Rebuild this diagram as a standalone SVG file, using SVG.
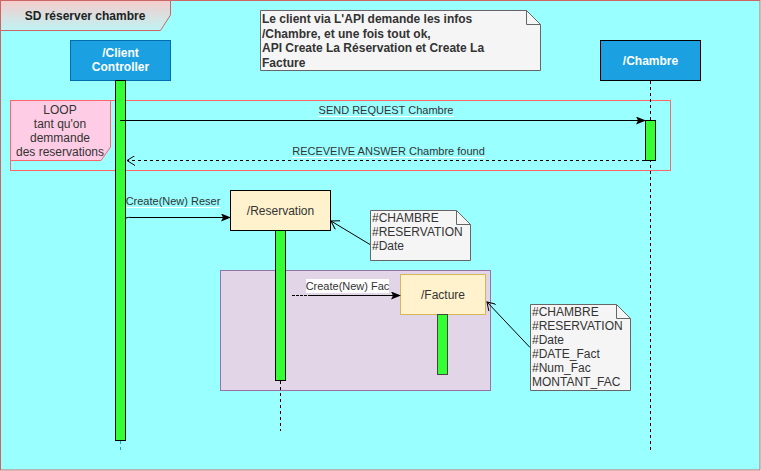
<svg xmlns="http://www.w3.org/2000/svg" width="761" height="471" viewBox="0 0 761 471">
<style>
text{font-family:"Liberation Sans",Arial,sans-serif;fill:#333}
.hd{fill:#fff;font-weight:bold;font-size:12px;text-anchor:middle}
.lbl{font-size:11px;text-anchor:middle}
.nt{font-size:12px}
.act{fill:#33FF33;stroke:#000;stroke-width:1}
.note{fill:#f5f5f5;stroke:#666;stroke-width:1}
.ll{stroke:#000;stroke-width:1;stroke-dasharray:3,3;fill:none}
.msg{stroke:#000;stroke-width:1;fill:none}
</style>
<defs>
<linearGradient id="tg" x1="0" y1="0" x2="0" y2="1">
<stop offset="0" stop-color="#f6cccc"/>
<stop offset="1" stop-color="#bff3f3"/>
</linearGradient>
<marker id="fa" markerWidth="10" markerHeight="8" refX="9" refY="4" orient="auto" markerUnits="userSpaceOnUse">
<path d="M0,0 L10,4 L0,8 L2,4 Z" fill="#000"/>
</marker>
<marker id="oe" markerWidth="10" markerHeight="10" refX="9" refY="5" orient="auto" markerUnits="userSpaceOnUse">
<path d="M1,0 L9,5 L1,10" fill="none" stroke="#000" stroke-width="1"/>
</marker>
</defs>

<g id="frame">
<rect x="0.5" y="0.5" width="759.5" height="469.5" fill="#99FFFF" stroke="#cc6666" stroke-width="1"/>
<path d="M0.5,0.5 H170.5 V15 L160.5,30.5 H0.5 Z" fill="url(#tg)" stroke="#cc6666" stroke-width="1"/>
<text x="85" y="20" font-size="12" text-anchor="middle" style="font-weight:600;fill:#222">SD réserver chambre</text>
</g>

<g id="loop">
<rect x="10.5" y="100.5" width="660" height="70" fill="none" stroke="#ff6666" stroke-width="1"/>
<path d="M10.5,100.5 H110.5 V147 L101,160.5 H10.5 Z" fill="#FFCCE6" stroke="#ff6666" stroke-width="1"/>
<text x="60" y="114" class="nt" text-anchor="middle">LOOP</text>
<text x="60" y="128" class="nt" text-anchor="middle">tant qu'on</text>
<text x="60" y="142" class="nt" text-anchor="middle">demmande</text>
<text x="60" y="156" class="nt" text-anchor="middle">des reservations</text>
</g>

<g id="facture-group">
<rect x="220.5" y="270.5" width="270" height="120" fill="#e1d5e7" stroke="#9673a6" stroke-width="1"/>
</g>

<g id="client">
<rect x="70.5" y="40.5" width="100" height="40" fill="#1ba1e2" stroke="#006EAF" stroke-width="1"/>
<text x="120.5" y="57" class="hd">/Client</text>
<text x="120.5" y="71" class="hd">Controller</text>
<line x1="120.5" y1="441" x2="120.5" y2="450" stroke="#1ba1e2" stroke-width="1" stroke-dasharray="3,3"/>
<rect x="115.5" y="80.5" width="10" height="360" class="act"/>
</g>

<g id="chambre">
<rect x="600.5" y="40.5" width="100" height="40" fill="#1ba1e2" stroke="#000" stroke-width="1"/>
<text x="650.5" y="65" class="hd">/Chambre</text>
<line x1="650.5" y1="81" x2="650.5" y2="450" class="ll"/>
<rect x="645.5" y="120.5" width="10" height="40" class="act"/>
</g>

<g id="reservation">
<rect x="230.5" y="190.5" width="100" height="40" fill="#fff2cc" stroke="#000" stroke-width="1"/>
<text x="280.5" y="215" class="nt" text-anchor="middle">/Reservation</text>
<line x1="280.5" y1="381" x2="280.5" y2="431" class="ll"/>
<rect x="275.5" y="230.5" width="10" height="150" class="act"/>
</g>

<g id="facture">
<rect x="400.5" y="274.5" width="85" height="40" fill="#fff2cc" stroke="#d6b656" stroke-width="1"/>
<text x="443" y="299" class="nt" text-anchor="middle">/Facture</text>
<rect x="437.5" y="314.5" width="10" height="60" fill="#33FF33" stroke="#444" stroke-width="1"/>
</g>

<g id="note-api">
<path d="M260.5,10.5 H526.5 L540.5,24.5 V70.5 H260.5 Z" class="note"/>
<path d="M526.5,10.5 V24.5 H540.5" fill="none" stroke="#666"/>
<text x="262" y="23" class="nt" font-weight="bold">Le client via L'API demande les infos</text>
<text x="262" y="38" class="nt" font-weight="bold">/Chambre, et une fois tout ok,</text>
<text x="262" y="52" class="nt" font-weight="bold">API Create La Réservation et Create La</text>
<text x="262" y="67" class="nt" font-weight="bold">Facture</text>
</g>

<g id="note-reservation">
<path d="M370.5,210.5 H456.5 L470.5,224.5 V260.5 H370.5 Z" class="note"/>
<path d="M456.5,210.5 V224.5 H470.5" fill="none" stroke="#666"/>
<text x="372" y="222" class="nt">#CHAMBRE</text>
<text x="372" y="236" class="nt">#RESERVATION</text>
<text x="372" y="250" class="nt">#Date</text>
</g>

<g id="note-facture">
<path d="M530.5,304.5 H616.5 L630.5,318.5 V390.5 H530.5 Z" class="note"/>
<path d="M616.5,304.5 V318.5 H630.5" fill="none" stroke="#666"/>
<text x="532" y="316" class="nt">#CHAMBRE</text>
<text x="532" y="330" class="nt">#RESERVATION</text>
<text x="532" y="344" class="nt">#Date</text>
<text x="532" y="358" class="nt">#DATE_Fact</text>
<text x="532" y="372" class="nt">#Num_Fac</text>
<text x="532" y="386" class="nt">MONTANT_FAC</text>
</g>

<g id="connectors">
<line x1="120" y1="120.5" x2="645" y2="120.5" class="msg" marker-end="url(#fa)"/>
<rect x="318" y="116" width="136" height="1" fill="#fff"/>
<text x="386" y="114" class="lbl">SEND REQUEST Chambre</text>

<line x1="645" y1="160.5" x2="127" y2="160.5" class="msg" stroke-dasharray="3,3" marker-end="url(#oe)"/>
<rect x="292" y="157" width="193" height="1" fill="#fff"/>
<text x="388.5" y="155" class="lbl">RECEVEIVE ANSWER Chambre found</text>

<path d="M126,218 Q128,217 132,217.5 L230,217.5" class="msg" marker-end="url(#fa)"/>
<rect x="126" y="207" width="94" height="1" fill="#fff"/>
<text x="173" y="205" class="lbl">Create(New) Reser</text>

<line x1="292" y1="295.5" x2="310" y2="295.5" class="msg" stroke-dasharray="3,1"/>
<line x1="310" y1="295.5" x2="400" y2="295.5" class="msg" marker-end="url(#fa)"/>
<rect x="306" y="279" width="83" height="14" fill="#fff"/>
<text x="347.5" y="290" class="lbl">Create(New) Fac</text>

<line x1="370" y1="244.5" x2="331" y2="221" class="msg" marker-end="url(#oe)"/>
<line x1="530" y1="347.5" x2="487" y2="302" class="msg" marker-end="url(#oe)"/>
</g>
</svg>
